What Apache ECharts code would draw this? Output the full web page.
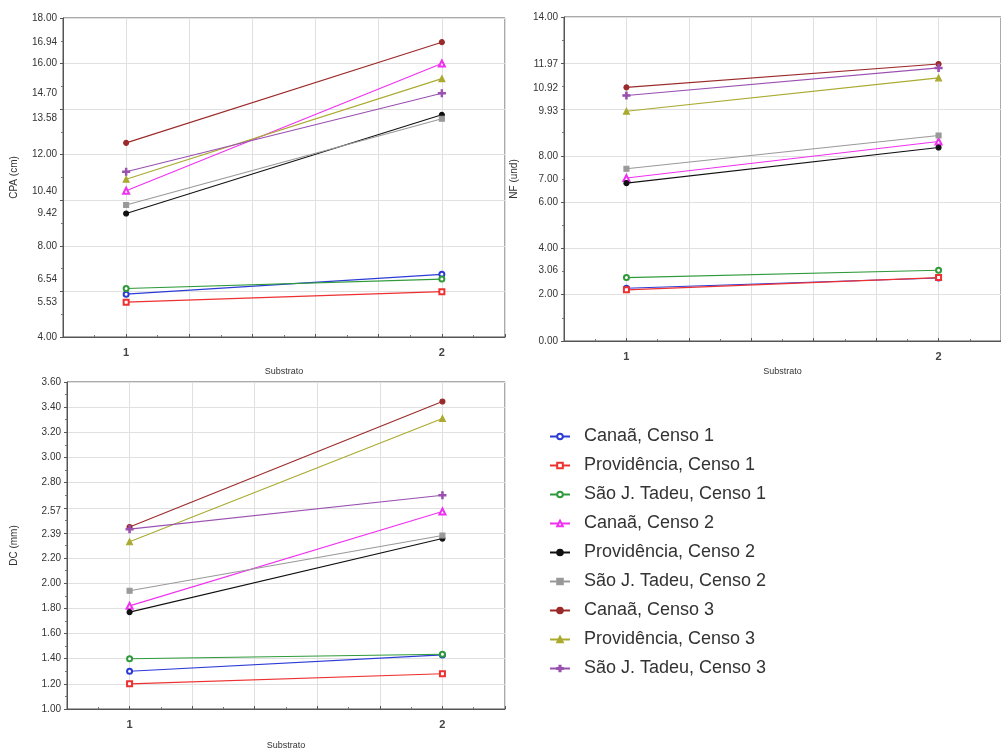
<!DOCTYPE html>
<html>
<head>
<meta charset="utf-8">
<script src="https://cdn.jsdelivr.net/npm/echarts@6/dist/echarts.min.js"></script>
<style>
html,body{margin:0;padding:0;background:#fff;}
#c{width:1001px;height:751px;}
</style>
</head>
<body>
<div id="c"></div>
<script>
// ---- data ----
const seriesNames = ['Canaã, Censo 1','Providência, Censo 1','São J. Tadeu, Censo 1','Canaã, Censo 2','Providência, Censo 2','São J. Tadeu, Censo 2','Canaã, Censo 3','Providência, Censo 3','São J. Tadeu, Censo 3'];
const substrato = [1, 2];
// values at substrato 1 and 2, one pair per series (same order as seriesNames)
const cpaValues = [[5.88,6.75],[5.53,5.99],[6.13,6.54],[10.42,16.00],[9.42,13.75],[9.79,13.58],[12.52,16.94],[10.92,15.34],[11.25,14.70]];
const nfValues  = [[2.28,2.72],[2.21,2.74],[2.74,3.06],[7.04,8.62],[6.82,8.36],[7.44,8.88],[10.96,11.97],[9.93,11.37],[10.61,11.80]];
const dcValues  = [[1.30,1.43],[1.20,1.28],[1.40,1.435],[1.82,2.57],[1.77,2.355],[1.94,2.38],[2.447,3.445],[2.33,3.31],[2.43,2.70]];
const cpaTicks = [4.00,5.53,6.54,8.00,9.42,10.40,12.00,13.58,14.70,16.00,16.94,18.00];
const nfTicks  = [0.00,2.00,3.06,4.00,6.00,7.00,8.00,9.93,10.92,11.97,14.00];
const dcTicks  = [1.00,1.20,1.40,1.60,1.80,2.00,2.20,2.39,2.57,2.80,3.00,3.20,3.40,3.60];

// ---- styles ----
const colors = ['#2b3bd6','#ee3030','#2f9a3a','#f030f0','#111111','#999999','#9b2a2a','#aaaa30','#9a50b0'];
const plus = 'path://M4,0H6V4H10V6H6V10H4V6H0V4H4Z';
const symbols = ['emptyCircle','emptyRect','emptyCircle','emptyTriangle','circle','rect','circle','triangle',plus];
const symSizes = [5,5,5,6,5,5,5,6,7];

const chart = echarts.init(document.getElementById('c'), null, {renderer:'canvas'});

const axisFont = {fontFamily:'Liberation Sans, Arial', fontSize:10, color:'#333'};
function xAxis(gi, gap){
  return {
    type:'value', gridIndex:gi, min:0.8, max:2.2, interval:0.2,
    name:'Substrato', nameLocation:'middle', nameGap:gap,
    nameTextStyle:{fontFamily:'Liberation Sans, Arial', fontSize:9, color:'#333'},
    axisLine:{show:true, onZero:false, lineStyle:{color:'#555'}},
    axisTick:{show:true, inside:true, length:3, lineStyle:{color:'#555'}},
    minorTick:{show:true, splitNumber:2, length:2, lineStyle:{color:'#777'}},
    splitLine:{show:true, lineStyle:{color:'#e0e0e0'}},
    axisLabel:Object.assign({margin:10, customValues:substrato, formatter:v=>String(Math.round(v))}, axisFont, {fontSize:11, fontWeight:'bold', color:'#444'})
  };
}
function yAxis(gi, min, max, interval, ticks, name, gap){
  return {
    type:'value', gridIndex:gi, min:min, max:max, interval:interval,
    name:name, nameLocation:'middle', nameGap:gap, nameRotate:90,
    nameTextStyle:{fontFamily:'Liberation Sans, Arial', fontSize:10, color:'#333'},
    axisLine:{show:true, onZero:false, lineStyle:{color:'#555'}},
    axisTick:{show:true, inside:false, length:3, lineStyle:{color:'#555'}},
    minorTick:{show:true, splitNumber:2, length:2, lineStyle:{color:'#777'}},
    splitLine:{show:true, lineStyle:{color:'#e0e0e0'}},
    axisLabel:Object.assign({margin:6, customValues:ticks, formatter:v=>v.toFixed(2)}, axisFont)
  };
}

const grids = [
  {left:63, top:18, width:442, height:319, show:true, borderColor:'#555', borderWidth:1},
  {left:564, top:17, width:449, height:324, show:true, borderColor:'#555', borderWidth:1},
  {left:67, top:382, width:438, height:330, show:true, borderColor:'#555', borderWidth:1}
];

const datasets = [cpaValues, nfValues, dcValues];
const series = [];
datasets.forEach((vals, gi)=>{
  vals.forEach((pair, si)=>{
    series.push({
      type:'line', name:seriesNames[si], xAxisIndex:gi, yAxisIndex:gi,
      data: substrato.map((s,k)=>[s, pair[k]]),
      symbol:symbols[si], symbolSize:symSizes[si],
      lineStyle:{color:colors[si], width:1.1},
      itemStyle:{color:colors[si], borderColor:colors[si], borderWidth:1.1},
      animation:false, silent:true
    });
  });
});

chart.setOption({
  animation:false,
  backgroundColor:'#fff',
  grid:grids,
  xAxis:[xAxis(0,30), xAxis(1,26), xAxis(2,32)],
  yAxis:[
    yAxis(0,4,18,2,cpaTicks,'CPA (cm)',44),
    yAxis(1,0,14,2,nfTicks,'NF (und)',45),
    yAxis(2,1,3.6,0.2,dcTicks,'DC (mm)',48)
  ],
  legend:{
    data:seriesNames, orient:'vertical', left:544, top:421,
    itemWidth:20, itemHeight:7, itemGap:8,
    textStyle:{fontFamily:'Liberation Sans, Arial', fontSize:18, color:'#333', lineHeight:21, padding:[0,0,0,9]}
  },
  series:series
});
</script>
</body>
</html>
